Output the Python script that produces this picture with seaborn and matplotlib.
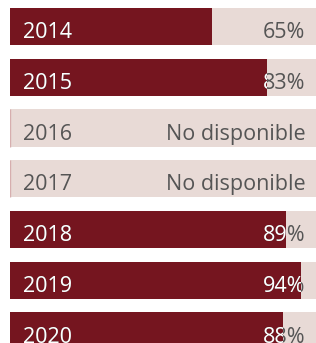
import numpy as np
import pandas as pd
import matplotlib
matplotlib.use("Agg")
import matplotlib.pyplot as plt
from matplotlib.transforms import TransformedBbox
import seaborn as sns

years = ["2014", "2015", "2016", "2017", "2018", "2019", "2020"]
values = [65, 83, None, None, 89, 94, 88]
full = [100] * len(years)
missing_label = "No disponible"

DARK = "#75151F"
LIGHT = "#E8DAD6"
GRAY = "#555555"

sns.set_theme(style="white")
plt.rcParams["font.family"] = ["Open Sans", "DejaVu Sans"]

df = pd.DataFrame({
    "year": years,
    "value": [0 if v is None else v for v in values],
    "full": full,
})

fig = plt.figure(figsize=(3.16, 3.43), dpi=100)
ax = fig.add_axes([10 / 316, 0, 310 / 316, 1])

sns.barplot(data=df, x="full", y="year", order=years, orient="h", color=LIGHT,
            saturation=1, width=0.73, linewidth=0, ax=ax)
n = len(years)
sns.barplot(data=df, x="value", y="year", order=years, orient="h", color=DARK,
            saturation=1, width=0.73, linewidth=0, ax=ax)
bars = ax.patches[n:2 * n]

ax.set_xlim(0, 100)
pitch = 50.75
top = -26.5 / pitch
ax.set_ylim(top + 343 / pitch, top)
ax.axis("off")

for i, (yr, v) in enumerate(zip(years, values)):
    bar = bars[i]
    if v is None:
        bar.set_edgecolor("#D6AEAE")
        bar.set_linewidth(1.0)
        lab = missing_label
    else:
        lab = f"{v}%"
    yb = i + 0.227
    for txt, xpos, ha in [(yr, 4.2, "left"), (lab, 95.3, "right")]:
        ax.text(xpos, yb, txt, ha=ha, va="baseline", fontsize=15.5, color=GRAY)
        if v is not None:
            t = ax.text(xpos, yb, txt, ha=ha, va="baseline", fontsize=15.5,
                        color="white", clip_on=True)
            t.set_clip_box(TransformedBbox(bar.get_bbox(), ax.transData))

fig.savefig("out.png", dpi=100)
